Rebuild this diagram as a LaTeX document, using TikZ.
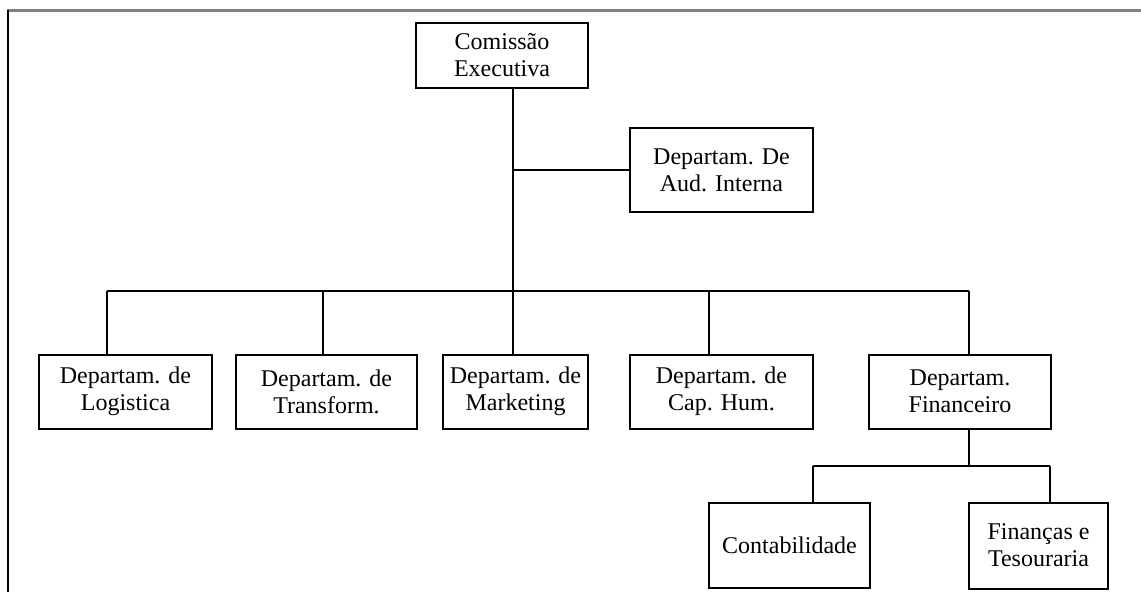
\documentclass[tikz,border=0pt]{standalone}
\usepackage{fontspec}
\setmainfont{Liberation Serif}
\usepackage{tikz}
\tikzset{
  unit/.style={draw,line width=2pt,align=center,inner sep=0pt,
    font=\fontsize{24}{27}\selectfont},
  link/.style={line width=2pt}
}

\begin{document}
\begin{tikzpicture}[x=1pt,y=-1pt]
    \useasboundingbox (0,0) rectangle (1141,592);
    % frame
    \draw[gray,line width=2.4pt] (7,10.5) -- (1141,10.5);
    \draw[line width=2pt] (7.5,10) -- (7.5,592);
    % boxes
    \node[unit,minimum width=172pt,minimum height=65pt] (ce) at (502,55) {Comiss\~ao\\Executiva};
    \node[unit,minimum width=183pt,minimum height=84pt] (aud) at (721.5,170) {Departam. De\\Aud. Interna};
    \node[unit,minimum width=173pt,minimum height=74pt] (log) at (125.5,391.5) {Departam. de\\Logistica};
    \node[unit,minimum width=181pt,minimum height=74pt] (trans) at (326.5,391.5) {Departam. de\\Transform.};
    \node[unit,minimum width=145pt,minimum height=74pt] (mkt) at (515.5,391.5) {Departam. de\\Marketing};
    \node[unit,minimum width=183pt,minimum height=74pt] (cap) at (721.5,391.5) {Departam. de\\Cap. Hum.};
    \node[unit,minimum width=182pt,minimum height=74pt] (fin) at (960,391.5) {Departam.\\Financeiro};
    \node[unit,minimum width=161pt,minimum height=85pt] (cont) at (789.5,545.5) {Contabilidade};
    \node[unit,minimum width=139pt,minimum height=86pt] (ft) at (1038.5,545.5) {Finan\c{c}as e\\Tesouraria};
    % bus points
    \coordinate (trunk) at (513,291);
    \coordinate (b1) at (107,291);
    \coordinate (b2) at (323,291);
    \coordinate (b4) at (709,291);
    \coordinate (b5) at (969,291);
    \coordinate (s1) at (813,466);
    \coordinate (s2) at (1050,466);
    % connectors
    \draw[link] (trunk |- ce.south) -- (trunk);
    \draw[link] (trunk |- aud.west) -- (aud.west);
    \draw[link] (b1) -- (b5);
    \draw[link] (b1) -- (b1 |- log.north);
    \draw[link] (b2) -- (b2 |- trans.north);
    \draw[link] (trunk) -- (trunk |- mkt.north);
    \draw[link] (b4) -- (b4 |- cap.north);
    \draw[link] (b5) -- (b5 |- fin.north);
    \draw[link] (b5 |- fin.south) -- (b5 |- s1);
    \draw[link] (s1) -- (s2);
    \draw[link] (s1) -- (s1 |- cont.north);
    \draw[link] (s2) -- (s2 |- ft.north);
\end{tikzpicture}
\end{document}
